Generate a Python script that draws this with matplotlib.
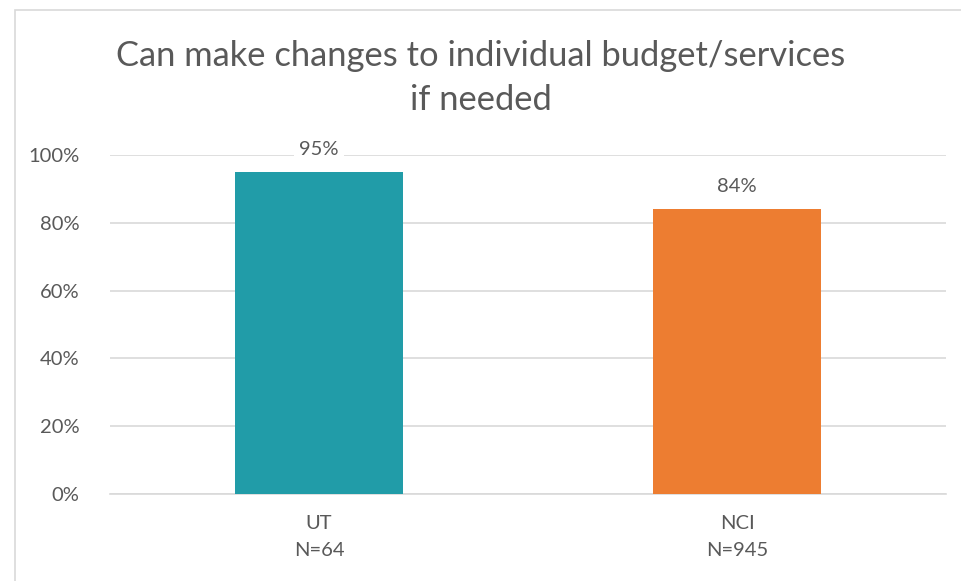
import matplotlib
matplotlib.use('Agg')
import matplotlib.pyplot as plt
from matplotlib.patches import Rectangle
from matplotlib.ticker import PercentFormatter

categories = ['UT\nN=64', 'NCI\nN=945']
values = [95, 84]
colors = ['#219ca8', '#ed7d31']
yticks = [0, 20, 40, 60, 80, 100]

plt.rcParams['font.family'] = ['Lato', 'DejaVu Sans']
txt = '#595959'

fig = plt.figure(figsize=(9.62, 5.81), dpi=100)
# chart frame (left/top edges visible)
fig.patches.append(Rectangle((15/962, -0.1), 1.2, 1 - 10/581 + 0.1, transform=fig.transFigure,
                             fill=False, edgecolor='#d9d9d9', linewidth=1.2))
ax = fig.add_axes([110/962, 1 - 494/581, 836/962, (494 - 155)/581])

x = range(len(categories))
ax.bar(x, values, width=0.40, color=colors, zorder=3)
ax.set_xlim(-0.5, 1.5)
ax.set_ylim(0, 100)
ax.set_yticks(yticks)
ax.yaxis.set_major_formatter(PercentFormatter(decimals=0))
ax.set_xticks(list(x))
ax.set_xticklabels(categories, fontsize=14.5, color=txt, linespacing=1.75)
ax.tick_params(axis='y', length=0, labelsize=14.5, labelcolor=txt, pad=22)
ax.tick_params(axis='x', length=0, pad=15)
ax.grid(axis='y', color='#d9d9d9', linewidth=1.2, zorder=0)
for s in ['top', 'right', 'left']:
    ax.spines[s].set_visible(False)
ax.spines['bottom'].set_color('#d9d9d9')
ax.spines['bottom'].set_linewidth(1.2)

for xi, v in zip(x, values):
    ax.annotate(f'{v}%', (xi, v), xytext=(0, 10), textcoords='offset points',
                ha='center', va='bottom', fontsize=14.5, color=txt, zorder=4,
                bbox=dict(facecolor='white', edgecolor='none', pad=4))

fig.text(0.5, 1 - 78/581, 'Can make changes to individual budget/services\nif needed',
         ha='center', va='center', fontsize=24.8, color=txt, linespacing=1.45)

fig.savefig('out.png', dpi=100)
